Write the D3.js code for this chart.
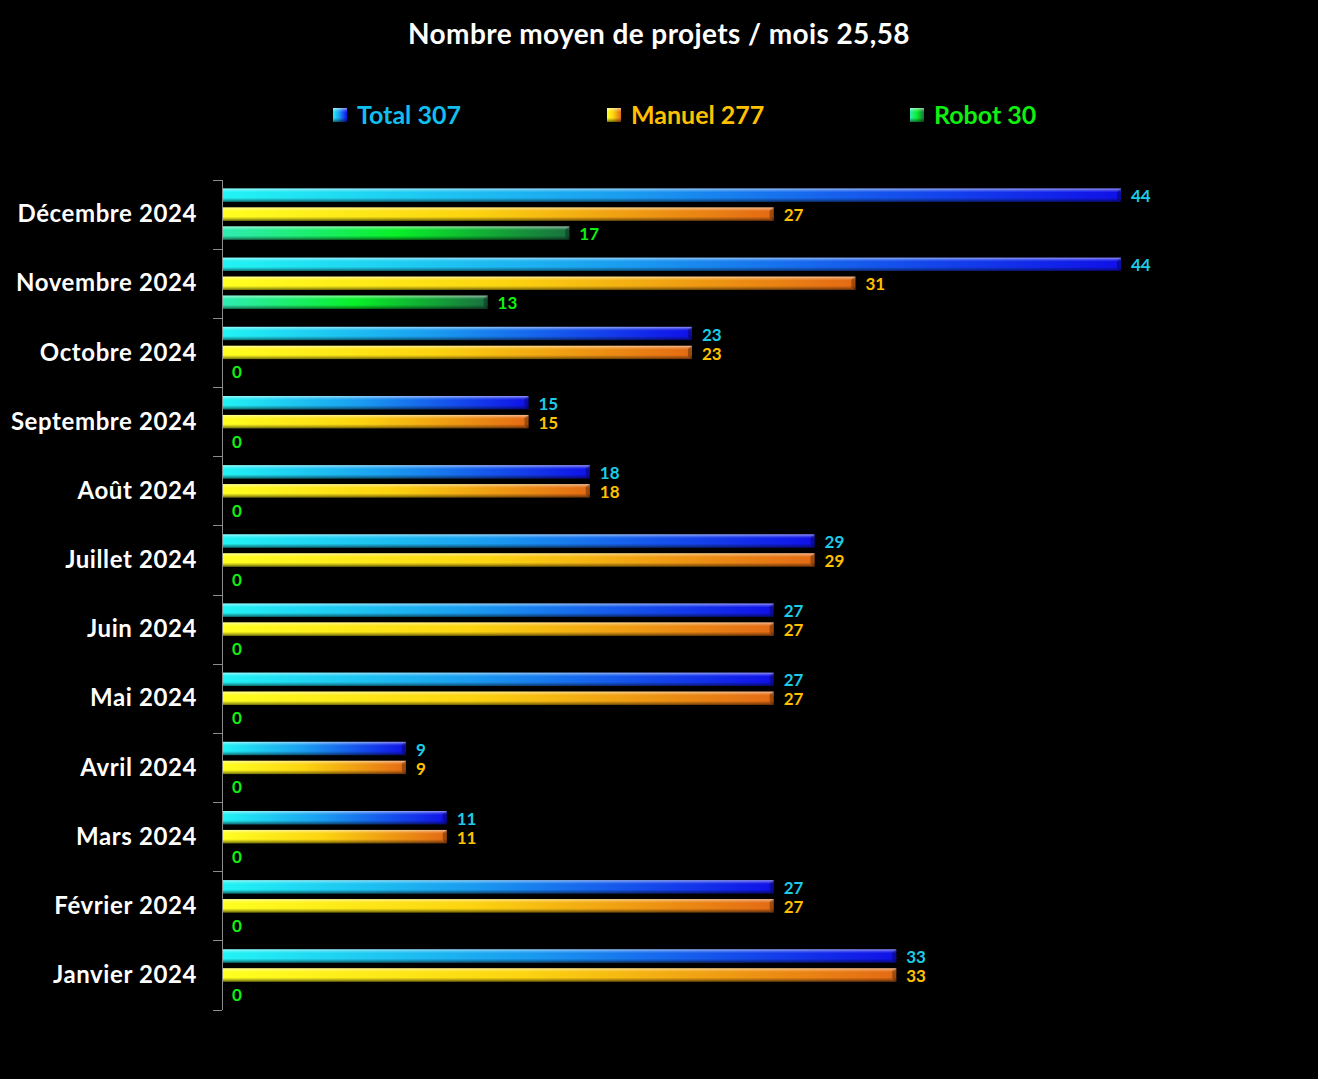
<!DOCTYPE html>
<html lang="fr">
<head>
<meta charset="utf-8">
<title>Nombre moyen de projets</title>
<script src="https://cdn.jsdelivr.net/npm/d3@7"></script>
<style>
	html, body { margin: 0; padding: 0; background: #000; }
	svg { display: block; font-family: Lato, "Open Sans", sans-serif; font-weight: bold; }
	.axis path, .axis line { stroke: #8c8c8c; shape-rendering: crispEdges; }
</style>
</head>
<body>
<div id="chart"></div>
<script>
	// months, top to bottom
	var months = ["Décembre 2024", "Novembre 2024", "Octobre 2024", "Septembre 2024", "Août 2024",
		"Juillet 2024", "Juin 2024", "Mai 2024", "Avril 2024", "Mars 2024", "Février 2024", "Janvier 2024"];
	var total  = [44, 44, 23, 15, 18, 29, 27, 27, 9, 11, 27, 33];
	var manuel = [27, 31, 23, 15, 18, 29, 27, 27, 9, 11, 27, 33];
	var robot  = [17, 13, 0, 0, 0, 0, 0, 0, 0, 0, 0, 0];
	var seriesNames = ["Total", "Manuel", "Robot"];
	var seriesTotals = [307, 277, 30];
	var title = "Nombre moyen de projets / mois 25,58";

	var W = 1318, H = 1079;
	var margin = {top: 180, right: 197, bottom: 69, left: 222};
	var width = W - margin.left - margin.right;
	var height = H - margin.top - margin.bottom;

	var svg = d3.select("#chart").append("svg")
		.attr("width", W).attr("height", H);
	svg.append("rect").attr("width", W).attr("height", H).attr("fill", "#000");

	var defs = svg.append("defs");
	var grads = [
		[["0%", "#22f4f4"], ["45%", "#1a9cf0"], ["100%", "#1010e8"]],
		[["0%", "#ffff20"], ["45%", "#fcd410"], ["100%", "#e46a14"]],
		[["0%", "#30ecb4"], ["50%", "#08f028"], ["100%", "#1a7040"]]
	];
	grads.forEach(function(stops, i) {
		var lg = defs.append("linearGradient").attr("id", "g" + i)
			.attr("x1", "0").attr("x2", "1").attr("y1", "0").attr("y2", "0");
		stops.forEach(function(s) {
			lg.append("stop").attr("offset", s[0]).attr("stop-color", s[1]);
		});
	});
	// bevel shading on top of the bars
	var bev = defs.append("linearGradient").attr("id", "bevel")
		.attr("x1", "0").attr("x2", "0").attr("y1", "0").attr("y2", "1");
	[["0%", "#fff", 0.55], ["18%", "#fff", 0.15], ["30%", "#fff", 0], ["70%", "#000", 0],
	 ["85%", "#000", 0.25], ["100%", "#000", 0.55]].forEach(function(s) {
		bev.append("stop").attr("offset", s[0]).attr("stop-color", s[1]).attr("stop-opacity", s[2]);
	});

	var labelColors = ["#1ccce6", "#ffc000", "#10f010"];
	var legendColors = ["#10bff0", "#ffc000", "#10f010"];

	var g = svg.append("g").attr("transform", "translate(" + margin.left + "," + margin.top + ")");

	var x = d3.scaleLinear().domain([0, 44]).range([0, 899]);
	var y0 = d3.scaleBand().domain(months).range([0, height]).paddingInner(0).paddingOuter(0);
	var y1 = d3.scaleBand().domain(seriesNames).range([8.5, y0.bandwidth() - 9.5]).paddingInner(0.3);

	var rows = months.map(function(m, i) {
		return {month: m, values: [total[i], manuel[i], robot[i]]};
	});

	var row = g.selectAll(".row").data(rows).enter().append("g")
		.attr("class", "row")
		.attr("transform", function(d) { return "translate(0," + y0(d.month) + ")"; });

	var cell = row.selectAll(".bar").data(function(d) {
		return d.values.map(function(v, k) { return {k: k, v: v}; });
	}).enter().append("g").attr("class", "bar");

	var drawn = cell.filter(function(d) { return d.v > 0; });
	drawn.append("rect")
		.attr("x", 0)
		.attr("y", function(d) { return y1(seriesNames[d.k]); })
		.attr("width", function(d) { return x(d.v); })
		.attr("height", y1.bandwidth())
		.attr("fill", function(d) { return "url(#g" + d.k + ")"; });
	drawn.append("rect")
		.attr("x", 0)
		.attr("y", function(d) { return y1(seriesNames[d.k]); })
		.attr("width", function(d) { return x(d.v); })
		.attr("height", y1.bandwidth())
		.attr("fill", "url(#bevel)");
	// bevelled right end
	drawn.append("path")
		.attr("d", function(d) {
			var xe = x(d.v), yt = y1(seriesNames[d.k]), h = y1.bandwidth();
			return "M" + (xe - 4) + "," + (yt + 3) + "L" + xe + "," + yt + "L" + xe + "," + (yt + h) +
				"L" + (xe - 4) + "," + (yt + h - 3) + "Z";
		})
		.attr("fill", "#000").attr("fill-opacity", 0.3);

	cell.append("text")
		.attr("x", function(d) { return x(d.v) + 10; })
		.attr("y", function(d) { return y1(seriesNames[d.k]) + y1.bandwidth() / 2 + 1; })
		.attr("dy", "0.36em")
		.attr("font-size", "17px")
		.attr("fill", function(d) { return labelColors[d.k]; })
		.text(function(d) { return d.v; });

	// y axis
	var yAxis = g.append("g").attr("class", "axis")
		.call(d3.axisLeft(y0).tickSize(0).tickPadding(25));
	yAxis.select(".domain").remove();
	yAxis.selectAll("text").attr("fill", "#fff").attr("font-size", "24px")
		.attr("letter-spacing", "0.6px")
		.attr("font-family", "Lato, sans-serif").attr("font-weight", "bold");

	var bounds = d3.range(months.length + 1).map(function(i) { return i * y0.step(); });
	g.append("g").attr("class", "axis").selectAll("line").data(bounds).enter().append("line")
		.attr("x1", -9).attr("x2", 0)
		.attr("y1", function(d) { return d; }).attr("y2", function(d) { return d; });
	g.append("line").attr("class", "axis-line")
		.attr("x1", 0.5).attr("x2", 0.5).attr("y1", 0).attr("y2", height)
		.attr("stroke", "#8c8c8c");

	// title
	svg.append("text").attr("x", 659).attr("y", 44)
		.attr("text-anchor", "middle").attr("fill", "#fff").attr("font-size", "28px")
		.attr("letter-spacing", "0.4px")
		.text(title);

	// legend
	var legendX = [333, 607, 910];
	var legend = svg.append("g").selectAll("g").data(seriesNames).enter().append("g")
		.attr("transform", function(d, i) { return "translate(" + legendX[i] + ",108)"; });
	legend.append("rect").attr("width", 14).attr("height", 14)
		.attr("fill", function(d, i) { return "url(#g" + i + ")"; });
	legend.append("rect").attr("width", 14).attr("height", 14).attr("fill", "url(#bevel)");
	legend.append("text").attr("x", 24).attr("y", 7).attr("dy", "0.36em")
		.attr("font-size", "25px")
		.attr("fill", function(d, i) { return legendColors[i]; })
		.text(function(d, i) { return d + " " + seriesTotals[i]; });
</script>
</body>
</html>
